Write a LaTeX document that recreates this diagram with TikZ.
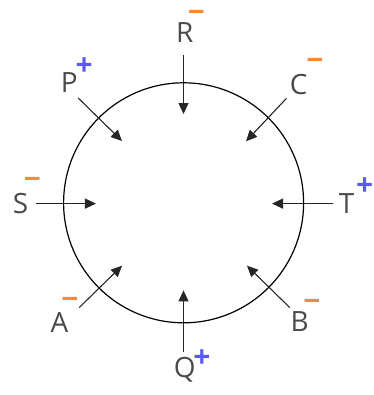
\documentclass[tikz,border=0pt]{standalone}
\usepackage{fontspec}
\setmainfont{Open Sans}
\usetikzlibrary{arrows.meta}
\definecolor{lbl}{HTML}{4A4A4A}
\definecolor{neg}{HTML}{F58A3A}
\definecolor{pos}{HTML}{5A5AF5}
\tikzset{
  lab/.style={inner sep=0pt, text=lbl, font=\fontsize{28}{32}\selectfont},
  negs/.style={inner sep=0pt, anchor=base, text=neg, font=\fontsize{30}{34}\selectfont\bfseries},
  poss/.style={inner sep=0pt, anchor=base, text=pos, font=\fontsize{30}{34}\selectfont\bfseries},
  arr/.style={draw=black!85, line width=1.1bp, -{Triangle[length=11bp,width=10bp]}},
  ring/.style={circle, draw=black, line width=1.2bp, minimum size=240bp, inner sep=0pt}
}
\begin{document}
\begin{tikzpicture}[x=1bp,y=-1bp]
\useasboundingbox (0,0) rectangle (374,395);
\node[ring] (ring) at (183.6,202.8) {};
% labels
\node[lab] (R) at (184.8,33) {R};
\node[lab] (P) at (69.3,82.5) {P};
\node[lab] (C) at (298.7,85) {C};
\node[lab] (S) at (20.5,203.6) {S};
\node[lab] (T) at (346.5,203.6) {T};
\node[lab] (A) at (59.4,322.5) {A};
\node[lab] (B) at (299.7,321.8) {B};
\node[lab] (Q) at (184.8,369.6) {Q};
% signs (base = centre + 10)
\node[negs] (Rm) at (196.4,22.5) {−};
\node[poss] (Pp) at (84.2,75) {+};
\node[negs] (Cm) at (315,70.4) {−};
\node[negs] (Sm) at (32.3,189) {−};
\node[poss] (Tp) at (364.7,195.5) {+};
\node[negs] (Am) at (70,309.5) {−};
\node[negs] (Bm) at (312,311.3) {−};
\node[poss] (Qp) at (202,367.4) {+};
% arrow endpoints
\coordinate (Rs) at (183.5,54.5); \coordinate (Re) at (183.5,114);
\coordinate (Ss) at (35.6,203.6); \coordinate (Se) at (96,203.6);
\coordinate (Ts) at (332.7,203.6); \coordinate (Te) at (272,203.6);
\coordinate (Qs) at (183.5,351.5); \coordinate (Qe) at (183.5,290.4);
\coordinate (Ps) at (78.2,98); \coordinate (Pe) at (122,141);
\coordinate (Cs) at (286.5,98.3); \coordinate (Ce) at (246,141.3);
\coordinate (As) at (79.2,307.6); \coordinate (Ae) at (122,265.7);
\coordinate (Bs) at (289.8,307.6); \coordinate (Be) at (247,265.7);
\draw[arr] (Rs) -- (Re);
\draw[arr] (Ss) -- (Se);
\draw[arr] (Ts) -- (Te);
\draw[arr] (Qs) -- (Qe);
\draw[arr] (Ps) -- (Pe);
\draw[arr] (Cs) -- (Ce);
\draw[arr] (As) -- (Ae);
\draw[arr] (Bs) -- (Be);
\end{tikzpicture}
\end{document}
